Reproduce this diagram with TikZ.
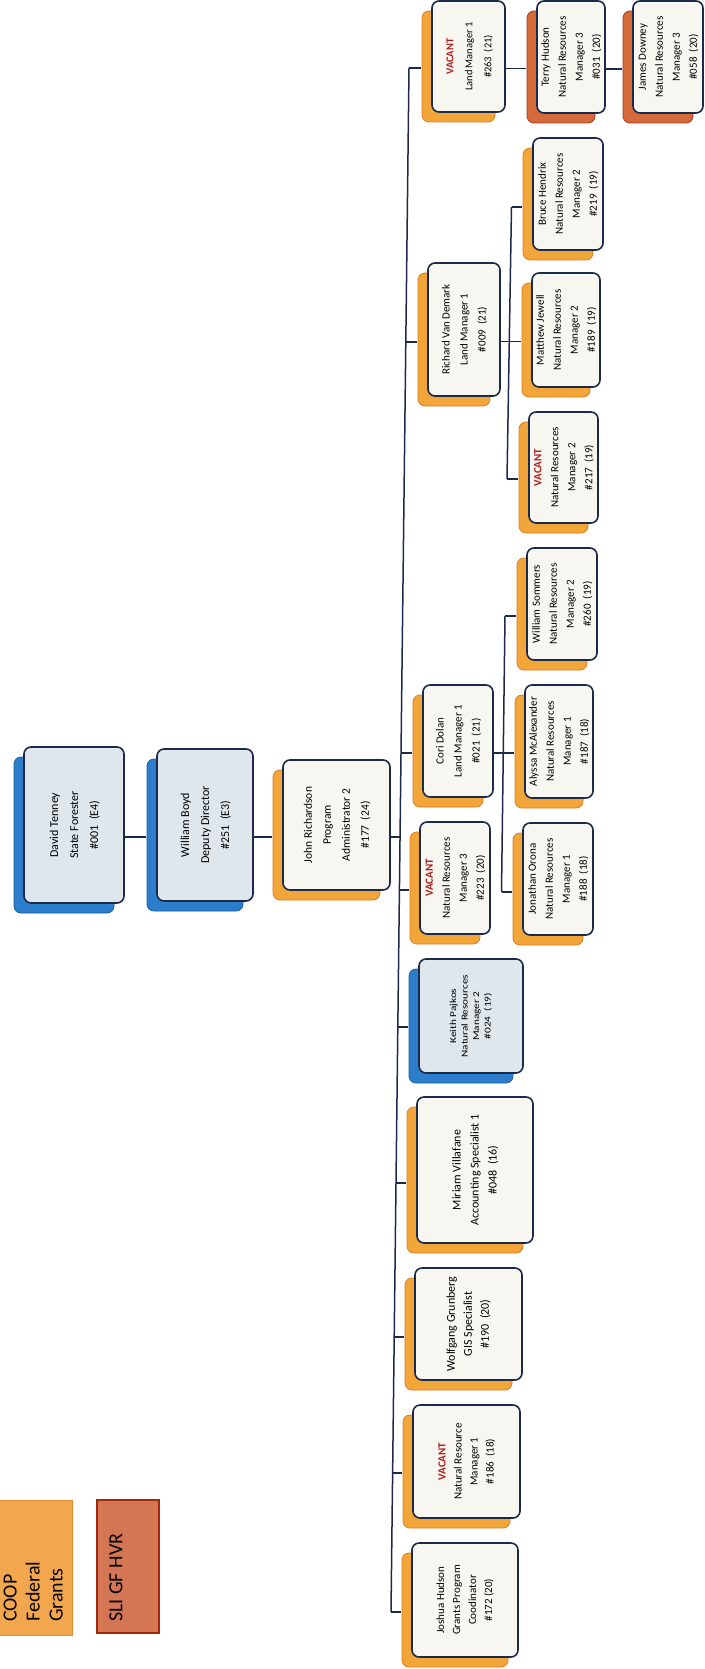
\documentclass[tikz,border=0pt]{standalone}
\usepackage{fontspec}
\setmainfont{Carlito}
\usetikzlibrary{shadows,calc}
\definecolor{boxfill}{HTML}{F8F6F1}
\definecolor{bluefill}{HTML}{DFE6EC}
\definecolor{boxline}{HTML}{1C2A4A}
\definecolor{shO}{HTML}{F2A63A}
\definecolor{shOd}{HTML}{E27A1E}
\definecolor{shB}{HTML}{2C7DCB}
\definecolor{shBd}{HTML}{1A5EA6}
\definecolor{shR}{HTML}{D4693A}
\definecolor{shRd}{HTML}{A8381E}
\definecolor{vacred}{HTML}{B01C1C}
\definecolor{coopfill}{HTML}{F2A64E}
\definecolor{coopline}{HTML}{E58C2E}
\definecolor{slifill}{HTML}{D47554}
\definecolor{sliline}{HTML}{A0280F}
\newcommand\boxtext[3]{\rotatebox{90}{\fontsize{#1}{#2}\selectfont\begin{tabular}{@{}c@{}}#3\end{tabular}}}
\newcommand\boxtextS[3]{\rotatebox{90}{\scalebox{1.25}[1]{\fontsize{#1}{#2}\selectfont\begin{tabular}{@{}c@{}}#3\end{tabular}}}}
\newcommand\vac{\textcolor{vacred}{\textbf{VACANT}}}
\begin{document}
\begin{tikzpicture}[x=1pt,y=-1pt,
  card/.style={draw=boxline,line width=1.6pt,rounded corners=7pt,fill=boxfill,inner sep=0pt,align=center},
  bluecard/.style={card,fill=bluefill},
  osh/.style={drop shadow={shadow xshift=-10pt,shadow yshift=-10pt,fill=shO,draw=shOd,line width=0.8pt,opacity=1}},
  bsh/.style={drop shadow={shadow xshift=-10pt,shadow yshift=-10pt,fill=shB,draw=shBd,line width=0.8pt,opacity=1}},
  rsh/.style={drop shadow={shadow xshift=-10pt,shadow yshift=-10pt,fill=shR,draw=shRd,line width=0.8pt,opacity=1}},
  conn/.style={draw=boxline,line width=1.5pt},
  legend/.style={inner sep=0pt,anchor=south}]
\useasboundingbox (0,0) rectangle (704,1669);
\clip (0,0) rectangle (704,1669);
\fill[white] (0,0) rectangle (704,1669);

% legend
\draw[fill=coopfill,draw=coopline,line width=0.8pt] (-30,1500) rectangle (72,1635);
\node[legend] (coop) at (35,1622) {\rotatebox{90}{\fontsize{20}{23}\selectfont\begin{tabular}{@{}l@{}}COOP\\Federal\\Grants\end{tabular}}};
\draw[fill=slifill,draw=sliline,line width=2pt] (97,1500) rectangle (159,1633);
\node[legend] (sli) at (116,1622) {\rotatebox{90}{\fontsize{20}{24}\selectfont SLI GF HVR}};

% top chain
\node[bluecard,bsh,minimum width=100pt,minimum height=156pt] (David) at (74,825) {\boxtext{12}{20}{David Tenney\\State Forester\\\#001\ \ (E4)}};
\node[bluecard,bsh,minimum width=96pt,minimum height=152pt] (William) at (205,825) {\boxtext{12}{20}{William Boyd\\Deputy Director\\\#251\ \ (E3)}};
\node[card,osh,minimum width=107pt,minimum height=130pt] (John) at (336.5,825) {\boxtext{11.5}{19}{John Richardson\\Program\\Administrator 2\\\#177\ \ (24)}};

% bus children
\node[card,osh,minimum width=73pt,minimum height=111pt] (LM1) at (468.5,56.5) {\boxtext{10.5}{19}{\vac\\Land Manager 1\\\#263\ \ (21)}};
\node[card,rsh,minimum width=68pt,minimum height=112pt] (Terry) at (571,57) {\boxtext{11}{17}{Terry Hudson\\Natural Resources\\Manager 3\\\#031\ \ (20)}};
\node[card,rsh,minimum width=70pt,minimum height=112pt] (James) at (668,57) {\boxtext{11}{17}{James Downey\\Natural Resources\\Manager 3\\\#058\ \ (20)}};
\node[card,osh,minimum width=72pt,minimum height=133pt] (Richard) at (464,329.5) {\boxtext{11}{18}{Richard Van Demark\\Land Manager 1\\\#009\ \ (21)}};
\node[card,osh,minimum width=70pt,minimum height=112pt] (Bruce) at (568,194) {\boxtext{11}{17}{Bruce Hendrix\\Natural Resources\\Manager 2\\\#219\ \ (19)}};
\node[card,osh,minimum width=68pt,minimum height=114pt] (Matthew) at (566,330) {\boxtext{11}{17}{Matthew Jewell\\Natural Resources\\Manager 2\\\#189\ \ (19)}};
\node[card,osh,minimum width=69pt,minimum height=111pt] (Vac217) at (563.5,467.5) {\boxtext{11}{17}{\vac\\Natural Resources\\Manager 2\\\#217\ \ (19)}};
\node[card,osh,minimum width=70pt,minimum height=112pt] (Cori) at (458,741) {\boxtext{11}{18}{Cori Dolan\\Land Manager 1\\\#021\ \ (21)}};
\node[card,osh,minimum width=70pt,minimum height=112pt] (Sommers) at (562,604) {\boxtext{11}{17}{William Sommers\\Natural Resources\\Manager 2\\\#260\ \ (19)}};
\node[card,osh,minimum width=68pt,minimum height=113pt] (Alyssa) at (559,741.5) {\boxtext{11}{17}{Alyssa McAlexander\\Natural Resources\\Manager 1\\\#187\ \ (18)}};
\node[card,osh,minimum width=70pt,minimum height=112pt] (Jonathan) at (558,879) {\boxtext{11}{17}{Jonathan Orona\\Natural Resources\\Manager 1\\\#188\ \ (18)}};
\node[card,osh,minimum width=70pt,minimum height=112pt] (Vac223) at (455,878) {\boxtext{11}{17}{\vac\\Natural Resources\\Manager 3\\\#223\ \ (20)}};
\node[bluecard,bsh,minimum width=104pt,minimum height=114pt] (Keith) at (471,1016) {\boxtextS{9}{11.5}{Keith Pajkos\\Natural Resources\\Manager 2\\\#024\ \ (19)}};
\node[card,osh,minimum width=116pt,minimum height=146pt] (Miriam) at (475,1170) {\boxtext{12}{18}{Miriam Villafane\\Accounting Specialist 1\\\#048\ \ (16)}};
\node[card,osh,minimum width=107pt,minimum height=112pt] (Wolfgang) at (468.5,1324) {\boxtext{12}{17}{Wolfgang Grunberg\\GIS Specialist\\\#190\ \ (20)}};
\node[card,osh,minimum width=107pt,minimum height=113pt] (Vac186) at (466.5,1461.5) {\boxtext{11}{16}{\vac\\Natural Resource\\Manager 1\\\#186\ \ (18)}};
\node[card,osh,minimum width=106pt,minimum height=114pt] (Joshua) at (465,1600) {\boxtext{11}{16}{Joshua Hudson\\Grants Program\\Coodinator\\\#172 (20)}};

% connectors: top chain
\draw[conn] ($(David.east)+(0,12)$) -- ($(David.east -| William.west)+(-10,12)$);
\draw[conn] ($(William.east)+(0,12)$) -- ($(William.east -| John.west)+(-10,12)$);
% main bus
\coordinate (bLM1) at (409,68);
\coordinate (bRichard) at (405.8,342);
\coordinate (bCori) at (401,753);
\coordinate (bJohn) at (400,837);
\coordinate (bVac223) at (399.4,890);
\coordinate (bKeith) at (397.8,1027);
\coordinate (bMiriam) at (396,1183);
\coordinate (bWolfgang) at (394.2,1337);
\coordinate (bVac186) at (392.6,1473);
\coordinate (bJoshua) at (391,1612);
\draw[conn] (bLM1) -- (bJoshua);
\draw[conn] ($(John.east)+(0,12)$) -- (bJohn);
\foreach \c in {LM1,Richard,Cori,Vac223,Keith,Miriam,Wolfgang,Vac186,Joshua}
  \draw[conn] (b\c) -- ($(b\c -| \c.west)+(-10,0)$);
% LM1 chain
\draw[conn] ($(LM1.east)+(0,12)$) -- ($(LM1.east -| Terry.west)+(-10,12)$);
\draw[conn] ($(Terry.east)+(0,12)$) -- ($(Terry.east -| James.west)+(-10,12)$);
% Richard group
\coordinate (sBruce) at (511.5,207);
\coordinate (sVac217) at (507,479);
\draw[conn] (sBruce) -- (sVac217);
\draw[conn] ($(Richard.east)+(0,12)$) -- ($(Richard.east -| Matthew.west)+(-10,12)$);
\draw[conn] (sBruce) -- ($(sBruce -| Bruce.west)+(-10,0)$);
\draw[conn] (sVac217) -- ($(sVac217 -| Vac217.west)+(-10,0)$);
% Cori group
\coordinate (sSommers) at (505,616);
\coordinate (sJonathan) at (501.5,892);
\draw[conn] (sSommers) -- (sJonathan);
\draw[conn] ($(Cori.east)+(0,12)$) -- ($(Cori.east -| Alyssa.west)+(-10,12)$);
\draw[conn] (sSommers) -- ($(sSommers -| Sommers.west)+(-10,0)$);
\draw[conn] (sJonathan) -- ($(sJonathan -| Jonathan.west)+(-10,0)$);
\end{tikzpicture}
\end{document}
